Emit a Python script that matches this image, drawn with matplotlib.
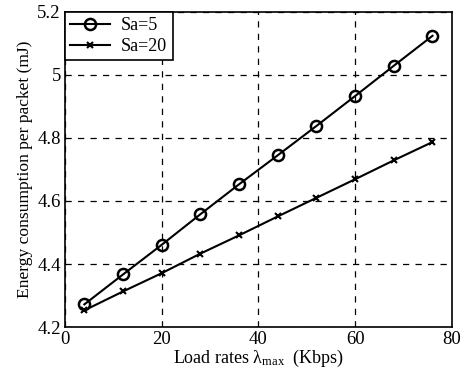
import matplotlib
matplotlib.use("Agg")
from matplotlib import pyplot as plt
import numpy as np

# load rates (Kbps)
loadRates = [4, 12, 20, 28, 36, 44, 52, 60, 68, 76]
# energy per packet (mJ)
sa5 = [4.272, 4.367, 4.461, 4.558, 4.653, 4.745, 4.838, 4.933, 5.029, 5.124]
sa20 = [4.253, 4.313, 4.371, 4.433, 4.491, 4.551, 4.610, 4.669, 4.729, 4.787]
xTicks = [0, 20, 40, 60, 80]
yTicks = [4.2, 4.4, 4.6, 4.8, 5.0, 5.2]
yTickLabels = ["4.2", "4.4", "4.6", "4.8", "5", "5.2"]

plt.rcParams['font.family'] = ['Liberation Serif', 'DejaVu Serif']
plt.rcParams['mathtext.fontset'] = 'custom'
plt.rcParams['mathtext.rm'] = 'Liberation Serif'
plt.rcParams['mathtext.it'] = 'Liberation Serif'

fig = plt.figure(figsize=(4.62, 3.70), dpi=100)
ax = fig.add_axes([0.1407, 0.116, 0.8373, 0.852])

ax.plot(loadRates, sa5, color="black", lw=1.5, marker="o", ms=8,
        mfc="none", mew=1.8, label="Sa=5")
ax.plot(loadRates, sa20, color="black", lw=1.5, marker="x", ms=4.5,
        mew=1.5, label="Sa=20")

ax.set_xlim(0, 80)
ax.set_ylim(4.2, 5.2)
ax.set_xticks(xTicks)
ax.set_yticks(yTicks)
ax.set_yticklabels(yTickLabels)
ax.tick_params(direction="in", length=0, labelsize=13.5, pad=3)
ax.grid(True, color="black", linestyle=(0, (5, 5)), lw=0.9)
for s in ax.spines.values():
    s.set_linewidth(1.2)

ax.set_xlabel(r"Load rates $\lambda_{\rm max}\;$ (Kbps)", fontsize=13, labelpad=0)
ax.set_ylabel("Energy consumption per packet (mJ)", fontsize=12.6, labelpad=3)

leg = ax.legend(loc="upper left", fontsize=13, fancybox=False, framealpha=1,
                edgecolor="black", borderaxespad=0, handlelength=2.2,
                borderpad=0.3, labelspacing=0.2, handletextpad=0.6)
leg.get_frame().set_linewidth(1.2)

fig.savefig("out.png", dpi=100)
